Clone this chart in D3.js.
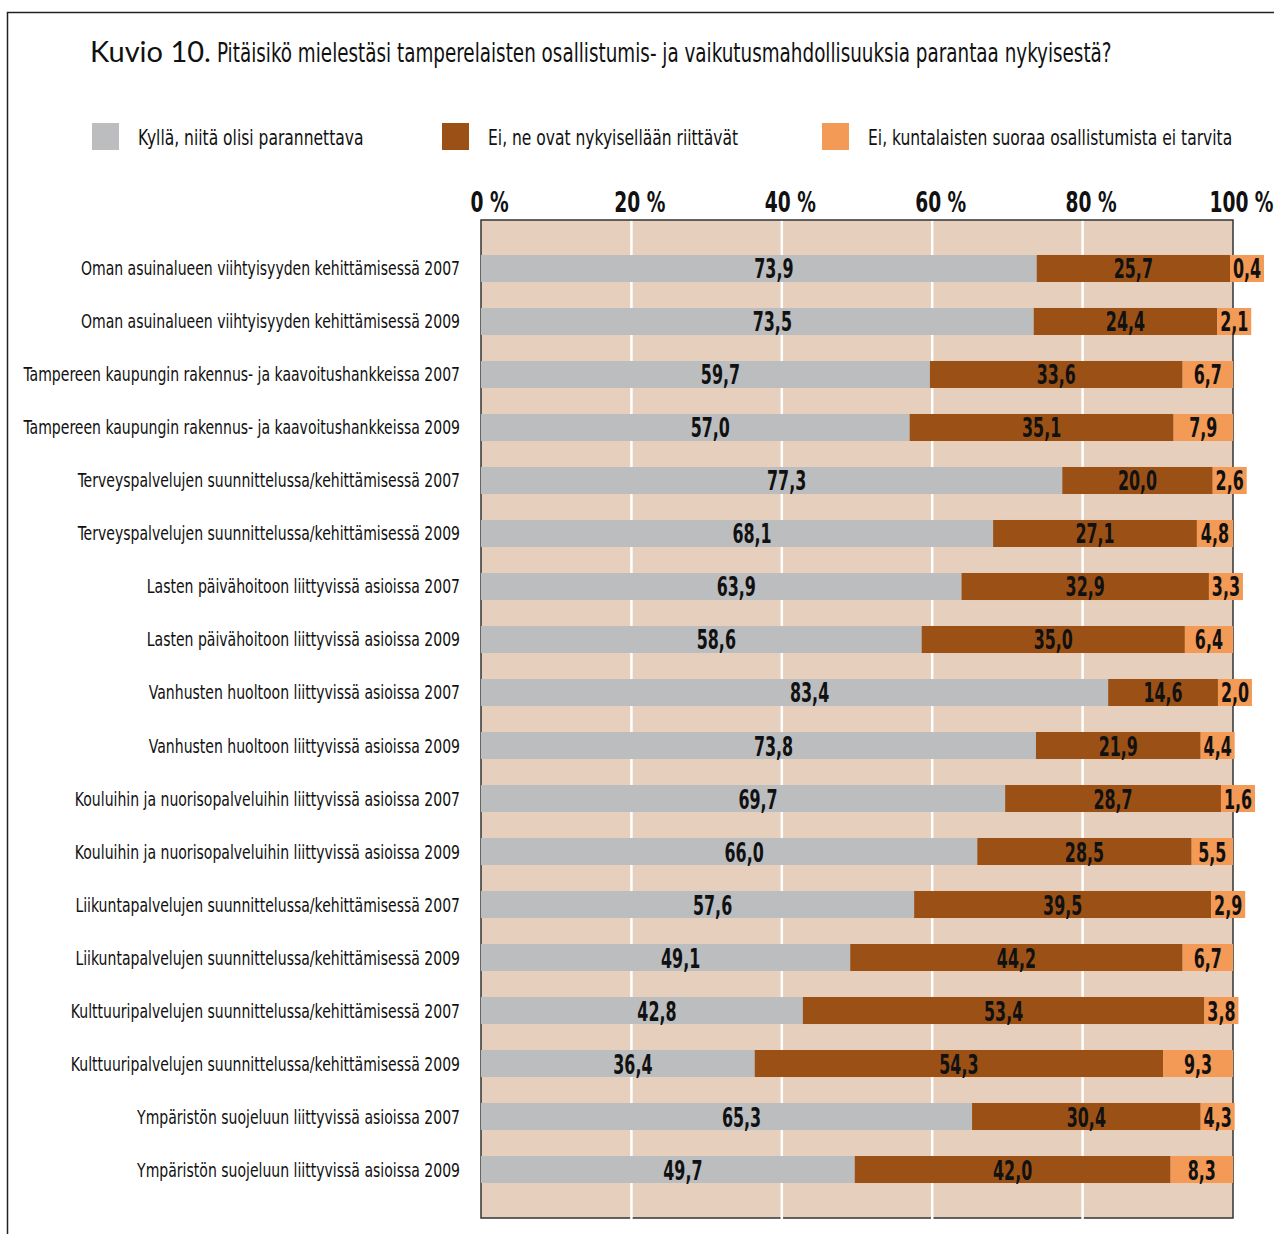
<!DOCTYPE html>
<html><head><meta charset="utf-8">
<script src="https://cdn.jsdelivr.net/npm/d3@7"></script>
<style>
body{margin:0;background:#fff;}
svg text{font-family:"DejaVu Sans Condensed","DejaVu Sans",sans-serif;fill:#111;}
</style></head><body>
<svg id="c" width="1274" height="1234"></svg>
<script>
const categories = [
 "Oman asuinalueen viihtyisyyden kehittämisessä 2007",
 "Oman asuinalueen viihtyisyyden kehittämisessä 2009",
 "Tampereen kaupungin rakennus- ja kaavoitushankkeissa 2007",
 "Tampereen kaupungin rakennus- ja kaavoitushankkeissa 2009",
 "Terveyspalvelujen suunnittelussa/kehittämisessä 2007",
 "Terveyspalvelujen suunnittelussa/kehittämisessä 2009",
 "Lasten päivähoitoon liittyvissä asioissa 2007",
 "Lasten päivähoitoon liittyvissä asioissa 2009",
 "Vanhusten huoltoon liittyvissä asioissa 2007",
 "Vanhusten huoltoon liittyvissä asioissa 2009",
 "Kouluihin ja nuorisopalveluihin liittyvissä asioissa 2007",
 "Kouluihin ja nuorisopalveluihin liittyvissä asioissa 2009",
 "Liikuntapalvelujen suunnittelussa/kehittämisessä 2007",
 "Liikuntapalvelujen suunnittelussa/kehittämisessä 2009",
 "Kulttuuripalvelujen suunnittelussa/kehittämisessä 2007",
 "Kulttuuripalvelujen suunnittelussa/kehittämisessä 2009",
 "Ympäristön suojeluun liittyvissä asioissa 2007",
 "Ympäristön suojeluun liittyvissä asioissa 2009"
];
const kylla = [73.9,73.5,59.7,57.0,77.3,68.1,63.9,58.6,83.4,73.8,69.7,66.0,57.6,49.1,42.8,36.4,65.3,49.7];
const riittavat = [25.7,24.4,33.6,35.1,20.0,27.1,32.9,35.0,14.6,21.9,28.7,28.5,39.5,44.2,53.4,54.3,30.4,42.0];
const eiTarvita = [0.4,2.1,6.7,7.9,2.6,4.8,3.3,6.4,2.0,4.4,1.6,5.5,2.9,6.7,3.8,9.3,4.3,8.3];
const seriesNames = ["Kyllä, niitä olisi parannettava","Ei, ne ovat nykyisellään riittävät","Ei, kuntalaisten suoraa osallistumista ei tarvita"];
const tickValues = [0,20,40,60,80,100];
const tickLabels = ["0 %","20 %","40 %","60 %","80 %","100 %"];
const colors = ["#bcbdbf","#9b5116","#f39a56"];

const svg = d3.select("#c");
const L=481, R=1233, T=220, B=1218;
const x = d3.scaleLinear().domain([0,100]).range([L,R]);
const y = d3.scaleBand().domain(categories).range([T,B]).paddingInner(0.49).paddingOuter(0.66);
const fmt = v => d3.format(".1f")(v).replace(".",",");

function ctext(parent, px, py, str, size, sx, anchor, weight){
  return parent.append("text").attr("transform",`translate(${px},${py}) scale(${sx},1)`)
    .attr("text-anchor",anchor||"start").attr("font-size",size).attr("font-weight",weight||"normal").text(str);
}

// outer frame
svg.append("path").attr("d","M7.5,1234 V12.5 H1274").attr("fill","none").attr("stroke","#222").attr("stroke-width",1.5);

// title
svg.append("text").attr("x",90).attr("y",62).text("Kuvio 10.")
  .style("font-family","'Lato','Open Sans',sans-serif").attr("font-size",29).attr("font-weight",400);
ctext(svg,217,62,"Pitäisikö mielestäsi tamperelaisten osallistumis- ja vaikutusmahdollisuuksia parantaa nykyisestä?",26,0.785);

// legend
const legX=[92,442,822];
seriesNames.forEach((n,i)=>{
  svg.append("rect").attr("x",legX[i]).attr("y",123).attr("width",27).attr("height",27).attr("fill",colors[i]);
  ctext(svg,legX[i]+46,145,n,22,0.785);
});

// plot background
svg.append("rect").attr("x",L).attr("y",T).attr("width",R-L).attr("height",B-T).attr("fill","#e6d0bd");
// gridlines
svg.selectAll("line.grid").data(tickValues.slice(1,-1)).join("line")
  .attr("x1",d=>x(d)).attr("x2",d=>x(d)).attr("y1",T).attr("y2",B)
  .attr("stroke","#fff").attr("stroke-width",2.5);
// frame of plot
svg.append("rect").attr("x",L).attr("y",T).attr("width",R-L).attr("height",B-T).attr("fill","none").attr("stroke","#333").attr("stroke-width",1.5);
svg.selectAll("line.grid2").data(tickValues.slice(1,-1)).join("line")
  .attr("x1",d=>x(d)).attr("x2",d=>x(d)).attr("y1",B-3).attr("y2",B+2)
  .attr("stroke","#fff").attr("stroke-width",2.5);

// axis tick labels
const axis = d3.axisTop(x).tickValues(tickValues).tickFormat((d,i)=>tickLabels[i]).tickSize(0).tickPadding(0);
const ag = svg.append("g").attr("transform",`translate(8,${T-8})`).call(axis);
ag.select(".domain").remove();
ag.selectAll("text").attr("font-size",28).attr("font-weight","bold")
  .style("font-family","'DejaVu Sans Condensed','DejaVu Sans',sans-serif").attr("fill","#111")
  .attr("transform","scale(0.74,1)");

// category labels
categories.forEach(c=>{
  ctext(svg,460,y(c)+y.bandwidth()/2+7,c,20,0.78,"end");
});

// bars
const bh = y.bandwidth();
categories.forEach((c,i)=>{
  const g = svg.append("g");
  const x0=x(0), x1=x(kylla[i]), x2=x(kylla[i]+riittavat[i]);
  const w3 = Math.max(x(eiTarvita[i])-x(0), 34);
  g.append("rect").attr("x",x0).attr("y",y(c)).attr("width",x1-x0).attr("height",bh).attr("fill",colors[0]);
  g.append("rect").attr("x",x1).attr("y",y(c)).attr("width",x2-x1).attr("height",bh).attr("fill",colors[1]);
  g.append("rect").attr("x",x2).attr("y",y(c)).attr("width",w3).attr("height",bh).attr("fill",colors[2]);
  const ty = y(c)+bh/2+10;
  ctext(g,(x0+x1)/2+15,ty,fmt(kylla[i]),26,0.68,"middle","bold");
  ctext(g,(x1+x2)/2,ty,fmt(riittavat[i]),26,0.68,"middle","bold");
  ctext(g,x2+w3/2,ty,fmt(eiTarvita[i]),26,0.68,"middle","bold");
});
</script>
</body></html>
